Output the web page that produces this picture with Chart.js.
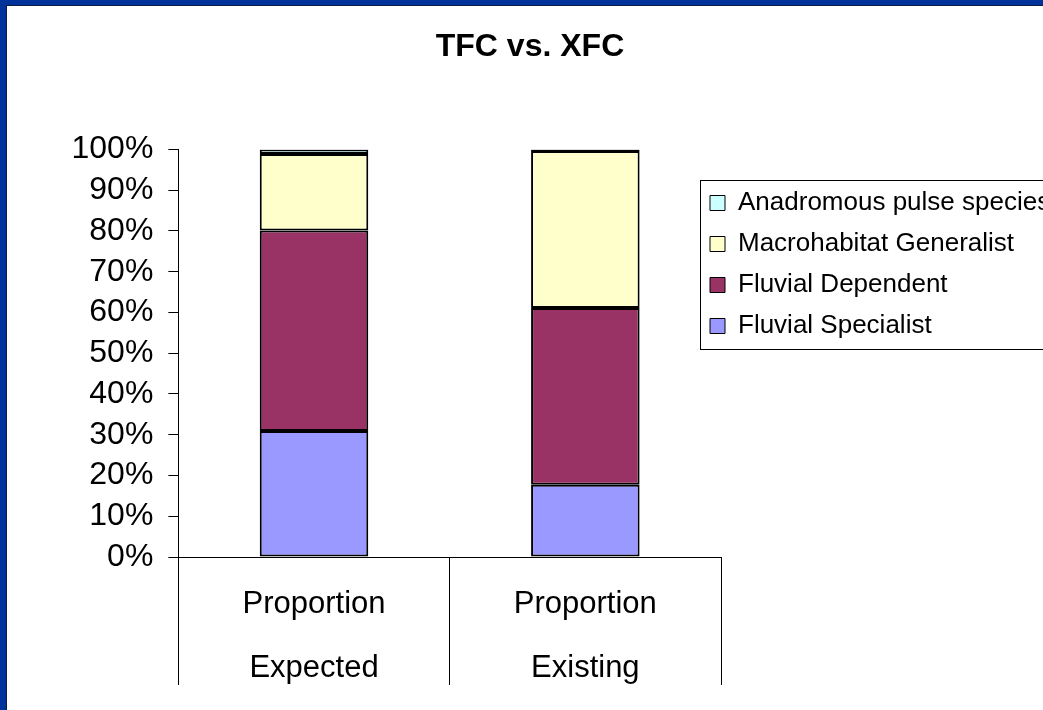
<!DOCTYPE html>
<html>
<head>
<meta charset="utf-8">
<title>TFC vs. XFC</title>
<script src="https://cdn.jsdelivr.net/npm/chart.js@4.4.1/dist/chart.umd.min.js"></script>
<style>
  html, body { margin: 0; padding: 0; background: #fff; overflow: hidden; }
  #frame { position: absolute; left: 0; top: 0; width: 1043px; height: 710px; box-sizing: border-box;
           border-left: 6px solid #003399; border-top: 5px solid #003399; overflow: hidden; background: #fff; }
  #inner { position: absolute; left: 0; top: 0; right: 0; bottom: 0;
           border-left: 1px solid #0b1d4a; border-top: 1px solid #0b1d4a; }
  #chart { position: absolute; left: 0; top: 0; }
</style>
</head>
<body>
<div id="frame"><div id="inner"><canvas id="chart" width="1036" height="704"></canvas></div></div>
<script>
const categories = [['Proportion', 'Expected'], ['Proportion', 'Existing']];
const seriesNames = ['Fluvial Specialist', 'Fluvial Dependent', 'Macrohabitat Generalist', 'Anadromous pulse species'];
const fluvialSpecialist = [30.9, 17.7];
const fluvialDependent = [49.2, 43.4];
const macrohabitatGeneralist = [18.8, 38.5];
const anadromousPulse = [1.1, 0.4];
const seriesColors = ['#9999FF', '#993366', '#FFFFCC', '#CCFFFF'];

const LEGEND_FONT = 26;
const LEGEND_PAD = 15;

Chart.defaults.font.family = "'Liberation Sans', Arial, sans-serif";
Chart.defaults.color = '#000';

// legend sits half over the plot's right edge and runs off the page, like the original;
// title is centred on the page rather than between the layout paddings
const legendFrame = {
    id: 'legendFrame',
    afterLayout(chart) {
        const lg = chart.legend;
        lg.left = 688; lg.top = 169;
        lg.right = lg.left + lg.width; lg.bottom = lg.top + 400;
        const t = chart.titleBlock, half = (t.right - t.left) / 2;
        t.left = 523 - half; t.right = 523 + half;
    },
    afterDraw(chart) {
        const lg = chart.legend, n = lg.legendItems.length, ctx = chart.ctx;
        ctx.save();
        ctx.strokeStyle = '#000';
        ctx.lineWidth = 1;
        ctx.strokeRect(Math.round(lg.left + LEGEND_PAD - 10) + 0.5, Math.round(lg.top + LEGEND_PAD - 10) + 0.5,
            chart.width, n * LEGEND_FONT + (n - 1) * LEGEND_PAD + 20);
        ctx.restore();
    }
};

const seriesData = [fluvialSpecialist, fluvialDependent, macrohabitatGeneralist, anadromousPulse];

new Chart(document.getElementById('chart'), {
    type: 'bar',
    data: {
        labels: categories,
        datasets: seriesNames.map((name, i) => ({
            label: name, data: seriesData[i], backgroundColor: seriesColors[i],
            borderColor: '#000', borderWidth: 2, borderSkipped: false,
            barPercentage: 0.4, categoryPercentage: 1
        }))
    },
    options: {
        responsive: false, animation: false, devicePixelRatio: 1,
        layout: { padding: { left: 49.5, right: 322, top: 0, bottom: 3 } },
        plugins: {
            title: { display: true, text: 'TFC vs. XFC', font: { size: 32, weight: 'bold' }, color: '#000', padding: { top: 22, bottom: 83 } },
            legend: {
                position: 'chartArea', align: 'start', reverse: true,
                labels: {
                    boxWidth: 15, boxHeight: 15, padding: LEGEND_PAD, font: { size: LEGEND_FONT }, color: '#000',
                    generateLabels: chart => Chart.defaults.plugins.legend.labels.generateLabels(chart).map(l => ({ ...l, lineWidth: 1 }))
                }
            },
            tooltip: { enabled: false }
        },
        scales: {
            x: {
                stacked: true,
                // the category dividers run down through the label rows, so the labels sit inside the tick marks
                afterFit: scale => { scale.height = 150; },
                grid: { offset: true, drawOnChartArea: false, drawTicks: true, tickLength: 128, color: '#000' },
                border: { color: '#000', width: 1 },
                ticks: { font: { size: 31, lineHeight: 64 / 31 }, padding: -113, color: '#000', maxRotation: 0 }
            },
            y: {
                stacked: true, min: 0, max: 100,
                grid: { drawOnChartArea: false, drawTicks: true, tickLength: 10, color: '#000' },
                border: { color: '#000', width: 1 },
                ticks: { stepSize: 10, autoSkip: false, font: { size: 32 }, padding: 15, color: '#000', callback: v => v + '%' }
            }
        }
    },
    plugins: [legendFrame]
});
</script>
</body>
</html>
